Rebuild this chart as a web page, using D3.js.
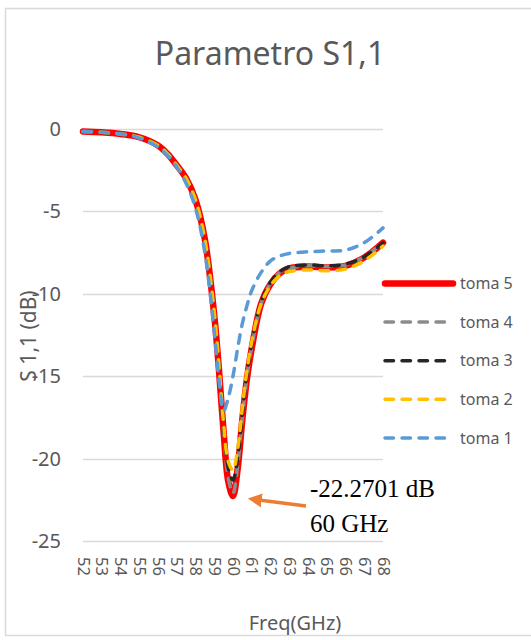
<!DOCTYPE html>
<html>
<head>
<meta charset="utf-8">
<script src="https://cdn.jsdelivr.net/npm/d3@7"></script>
<style>
  body { margin: 0; background: #fff; }
  text { font-family: "Noto Sans", "Open Sans", sans-serif; fill: #595959; }
</style>
</head>
<body>
<div id="chart"></div>
<script>
// frequency points (GHz)
var freq = [52, 53, 54, 55, 56, 56.5, 57, 57.5, 58, 58.5, 59, 59.25, 59.5, 59.75, 60,
  60.25, 60.5, 60.75, 61, 61.5, 62, 62.5, 63, 64, 65, 66, 67, 68];

// S1,1 in dB
var toma5 = [-0.15, -0.2, -0.3, -0.5, -1.0, -1.5, -2.2, -3.0, -4.3, -6.7, -11.3, -14.6, -18.4, -21.4, -22.2701,
  -20.6, -17.6, -15.1, -13.3, -10.6, -9.4, -8.75, -8.45, -8.35, -8.4, -8.3, -7.8, -6.9];
var toma4 = [-0.15, -0.2, -0.3, -0.5, -1.0, -1.5, -2.2, -3.0, -4.3, -6.7, -11.2, -14.5, -18.3, -21.2, -22.1,
  -20.4, -17.5, -15.0, -13.2, -10.6, -9.35, -8.7, -8.45, -8.3, -8.35, -8.25, -7.75, -6.9];
var toma3 = [-0.15, -0.2, -0.3, -0.5, -1.0, -1.5, -2.2, -3.0, -4.3, -6.7, -11.2, -14.4, -18.1, -20.6, -21.3,
  -19.9, -17.2, -14.8, -13.0, -10.5, -9.3, -8.65, -8.35, -8.25, -8.3, -8.2, -7.75, -6.9];
var toma2 = [-0.15, -0.2, -0.3, -0.5, -1.0, -1.5, -2.2, -3.0, -4.3, -6.7, -11.1, -14.3, -17.9, -20.2, -20.7,
  -19.4, -16.9, -14.6, -12.9, -10.6, -9.5, -8.9, -8.65, -8.55, -8.6, -8.5, -8.0, -7.1];
var toma1 = [-0.15, -0.2, -0.3, -0.55, -1.1, -1.6, -2.3, -3.3, -4.8, -7.5, -12.3, -15.2, -17.1, -16.3, -15.0,
  -13.3, -11.8, -10.7, -9.8, -8.7, -8.0, -7.7, -7.55, -7.45, -7.4, -7.35, -6.9, -6.0];

var seriesNames = ["toma 5", "toma 4", "toma 3", "toma 2", "toma 1"];
var seriesValues = [toma5, toma4, toma3, toma2, toma1];

var xTicks = d3.range(52, 69, 1);
var yTicks = [0, -5, -10, -15, -20, -25];

var svgWidth = 531;
var svgHeight = 640;

var plot = { left: 83, right: 383, top: 129, bottom: 541 };

var svg = d3.select("#chart")
  .append("svg")
  .attr("width", svgWidth)
  .attr("height", svgHeight);

// chart border
svg.append("rect")
  .attr("x", 5.5).attr("y", 8.5)
  .attr("width", 540).attr("height", 627)
  .attr("fill", "#fff")
  .attr("stroke", "#d9d9d9")
  .attr("stroke-width", 1.5);

var xScale = d3.scaleLinear().domain([52, 68]).range([plot.left, plot.right]);
var yScale = d3.scaleLinear().domain([0, -25]).range([plot.top, plot.bottom]);

// gridlines
svg.append("g")
  .selectAll("line")
  .data(yTicks)
  .enter()
  .append("line")
  .attr("x1", plot.left).attr("x2", plot.right)
  .attr("y1", d => Math.round(yScale(d)) + 0.5)
  .attr("y2", d => Math.round(yScale(d)) + 0.5)
  .attr("stroke", "#d9d9d9")
  .attr("stroke-width", 1.5);

// y axis labels (plain hyphen like the original)
var yAxis = d3.axisLeft(yScale).tickValues(yTicks).tickSize(0).tickPadding(22)
  .tickFormat(d => String(d));
var yG = svg.append("g")
  .attr("transform", `translate(${plot.left},0)`)
  .call(yAxis);
yG.select(".domain").remove();
yG.selectAll("text")
  .style("font-size", "20px")
  .style("font-family", "'Noto Sans', sans-serif")
  .attr("fill", "#595959");

// x axis labels, rotated
var xAxis = d3.axisBottom(xScale).tickValues(xTicks).tickSize(0);
var xG = svg.append("g")
  .attr("transform", `translate(0,${plot.bottom})`)
  .call(xAxis);
xG.select(".domain").remove();
xG.selectAll("text")
  .style("font-size", "16.5px")
  .style("font-family", "'Noto Sans', sans-serif")
  .attr("fill", "#595959")
  .attr("y", 0)
  .attr("x", 16)
  .attr("dy", "0.35em")
  .attr("transform", "rotate(90)")
  .style("text-anchor", "start");

// lines
var styles = [
  { color: "#ff0000", width: 6.5, dash: null },
  { color: "#8c8c8c", width: 3.5, dash: "8.5,8.5" },
  { color: "#262626", width: 3.5, dash: "8.5,8.5" },
  { color: "#ffc000", width: 3.5, dash: "8.5,8.5" },
  { color: "#5b9bd5", width: 3.5, dash: "8.5,8.5" }
];

var line = d3.line()
  .x((d, i) => xScale(freq[i]))
  .y(d => yScale(d))
  .curve(d3.curveCatmullRom.alpha(0.5));

svg.append("g")
  .selectAll("path")
  .data(seriesValues)
  .enter()
  .append("path")
  .attr("d", d => line(d))
  .attr("fill", "none")
  .attr("stroke", (d, i) => styles[i].color)
  .attr("stroke-width", (d, i) => styles[i].width)
  .attr("stroke-dasharray", (d, i) => styles[i].dash)
  .attr("stroke-linecap", "round")
  .attr("stroke-linejoin", "round");

// legend
var legend = svg.append("g")
  .selectAll("g")
  .data(seriesNames)
  .enter()
  .append("g")
  .attr("transform", (d, i) => `translate(383,${283.5 + i * 38.6})`);

legend.append("line")
  .attr("x1", 2)
  .attr("x2", (d, i) => i == 0 ? 70 : 64)
  .attr("y1", 0).attr("y2", 0)
  .attr("stroke", (d, i) => styles[i].color)
  .attr("stroke-width", (d, i) => styles[i].width)
  .attr("stroke-dasharray", (d, i) => styles[i].dash)
  .attr("stroke-linecap", "round");

legend.append("text")
  .attr("x", 77)
  .attr("y", 0)
  .attr("dy", "0.35em")
  .style("font-size", "16px")
  .text(d => d);

// title
svg.append("text")
  .attr("x", 270)
  .attr("y", 65)
  .attr("text-anchor", "middle")
  .style("font-size", "32px")
  .text("Parametro S1,1");

// axis titles
svg.append("text")
  .attr("transform", "translate(36,336) rotate(-90)")
  .attr("text-anchor", "middle")
  .style("font-size", "21px")
  .text("S 1,1 (dB)");

svg.append("text")
  .attr("x", 295)
  .attr("y", 630)
  .attr("text-anchor", "middle")
  .style("font-size", "20px")
  .text("Freq(GHz)");

// annotation of the minimum
var minIdx = freq.indexOf(60);
var ax = xScale(freq[minIdx]) + 20;
var ay = yScale(toma5[minIdx]) + 3;

svg.append("defs").append("marker")
  .attr("id", "arrow")
  .attr("viewBox", "0 0 10 10")
  .attr("refX", 2).attr("refY", 5)
  .attr("markerWidth", 4).attr("markerHeight", 4)
  .attr("orient", "auto")
  .append("path")
  .attr("d", "M0,0 L10,5 L0,10 Z")
  .attr("fill", "#ed7d31");

svg.append("line")
  .attr("x1", ax + 53).attr("y1", ay + 7)
  .attr("x2", ax + 6).attr("y2", ay + 1)
  .attr("stroke", "#ed7d31")
  .attr("stroke-width", 3.5)
  .attr("marker-end", "url(#arrow)");

var note = svg.append("text")
  .attr("x", 310)
  .attr("y", 497)
  .style("font-family", "'Liberation Serif', 'Times New Roman', serif")
  .style("font-size", "25px")
  .style("fill", "#000");
note.append("tspan").attr("x", 310).text(toma5[minIdx] + " dB");
note.append("tspan").attr("x", 310).attr("dy", 35).text(freq[minIdx] + " GHz");
</script>
</body>
</html>
